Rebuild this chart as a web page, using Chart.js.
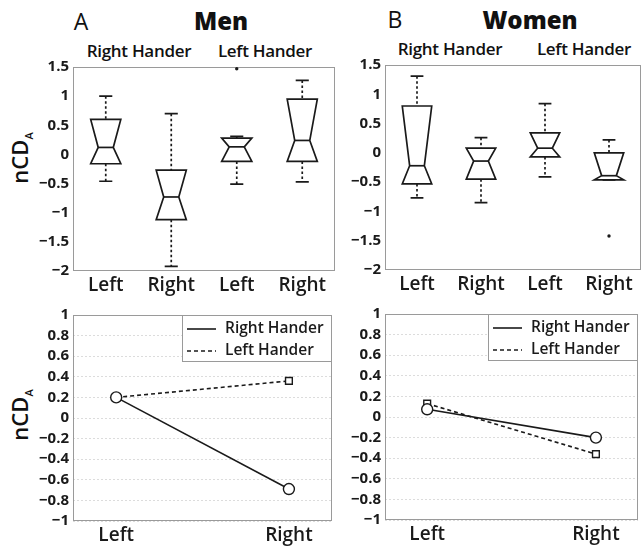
<!DOCTYPE html>
<html>
<head>
<meta charset="utf-8">
<script src="https://cdn.jsdelivr.net/npm/chart.js@4.4.0/dist/chart.umd.min.js"></script>
<style>
  body { margin:0; background:#fff; width:642px; height:548px; position:relative; overflow:hidden; font-family:'Open Sans', sans-serif; color:#111; }
  .panel { position:absolute; }
  .txt { position:absolute; white-space:nowrap; transform:translate(-50%,-50%); line-height:1; }
  .letter { font-size:23px; }
  .title { font-size:24px; font-weight:800; }
  .group { font-size:17px; font-weight:600; letter-spacing:-0.3px; }
  .ylab { font-size:22px; font-weight:600; transform:translate(-50%,-50%) rotate(-90deg); }
  .ylab sub { font-size:11px; }
</style>
</head>
<body>

<div class="txt letter" style="left:81px; top:21px;">A</div>
<div class="txt title" style="left:221px; top:21px;">Men</div>
<div class="txt group" style="left:139px; top:50px;">Right Hander</div>
<div class="txt group" style="left:265px; top:50px;">Left Hander</div>

<div class="txt letter" style="left:395px; top:19px;">B</div>
<div class="txt title" style="left:530px; top:20px;">Women</div>
<div class="txt group" style="left:450px; top:48px;">Right Hander</div>
<div class="txt group" style="left:584px; top:48px;">Left Hander</div>

<div class="txt ylab" style="left:21px; top:158px;">nCD<sub>A</sub></div>
<div class="txt ylab" style="left:21px; top:415px;">nCD<sub>A</sub></div>

<script>
/*-----Datos-----*/

const boxCats = ['Left', 'Right', 'Left', 'Right'];
const boxYTicks = [-2, -1.5, -1, -0.5, 0, 0.5, 1, 1.5];

// Hombres: Right Hander (Left, Right), Left Hander (Left, Right)
const menLow = [-0.46, -1.92, -0.51, -0.47];
const menQ1 = [-0.16, -1.12, -0.12, -0.12];
const menMedian = [0.12, -0.73, 0.13, 0.24];
const menQ3 = [0.6, -0.27, 0.28, 0.95];
const menHigh = [1.0, 0.7, 0.31, 1.27];
const menOutX = [3];
const menOutY = [1.47];

// Mujeres
const womenLow = [-0.77, -0.85, -0.41, -0.46];
const womenQ1 = [-0.53, -0.45, -0.07, -0.46];
const womenMedian = [-0.22, -0.14, 0.08, -0.39];
const womenQ3 = [0.8, 0.08, 0.34, 0.0];
const womenHigh = [1.31, 0.26, 0.84, 0.22];
const womenOutX = [4];
const womenOutY = [-1.42];

// Gráficas de líneas
const lineCats = ['Left', 'Right'];
const lineX = [1, 2];
const lineYTicks = [-1, -0.8, -0.6, -0.4, -0.2, 0, 0.2, 0.4, 0.6, 0.8, 1];
const menRightHander = [0.2, -0.69];
const menLeftHander = [0.2, 0.36];
const womenRightHander = [0.075, -0.2];
const womenLeftHander = [0.13, -0.36];

/*-----Utilidades-----*/

const ink = '#1a1a1a';
const frameColor = '#9a9a9a';
const tickFont = { family: 'Open Sans', size: 15, weight: 'bold' };
const catFont = { family: 'Open Sans', size: 19, weight: '600' };

function fmt(v) {
  return String(Math.round(v * 10) / 10).replace('-', '\u2212');
}

function makeCanvas(rect, yW, xH) {
  const padTop = 12, padRight = 4;
  const div = document.createElement('div');
  div.className = 'panel';
  div.style.left = (rect.left - yW) + 'px';
  div.style.top = (rect.top - padTop) + 'px';
  div.style.width = (yW + rect.right - rect.left + padRight) + 'px';
  div.style.height = (padTop + rect.bottom - rect.top + xH) + 'px';
  const c = document.createElement('canvas');
  div.appendChild(c);
  document.body.appendChild(div);
  return c;
}

const frame = {
  id: 'frame',
  beforeDatasetsDraw(chart) {
    const { ctx, chartArea: a } = chart;
    ctx.save();
    ctx.strokeStyle = frameColor;
    ctx.lineWidth = 1;
    ctx.strokeRect(Math.round(a.left) + 0.5, Math.round(a.top) + 0.5,
                   Math.round(a.right - a.left) - 1, Math.round(a.bottom - a.top) - 1);
    ctx.restore();
  }
};

const boxPlot = {
  id: 'boxPlot',
  afterDatasetsDraw(chart, args, opts) {
    const { ctx, scales: { x, y } } = chart;
    const s = opts.stats;
    if (!s) return;
    const step = x.getPixelForValue(2) - x.getPixelForValue(1);
    const half = step * 0.23, notch = half * 0.5, cap = step * 0.1;
    ctx.save();
    ctx.strokeStyle = ink;
    ctx.lineWidth = 1.7;
    s.median.forEach((m, i) => {
      const cx = x.getPixelForValue(i + 1);
      const lo = y.getPixelForValue(s.low[i]), q1 = y.getPixelForValue(s.q1[i]);
      const md = y.getPixelForValue(m), q3 = y.getPixelForValue(s.q3[i]);
      const hi = y.getPixelForValue(s.high[i]);
      // bigotes
      ctx.setLineDash([2.5, 2.5]);
      ctx.beginPath();
      ctx.moveTo(cx, hi); ctx.lineTo(cx, q3);
      ctx.moveTo(cx, q1); ctx.lineTo(cx, lo);
      ctx.stroke();
      ctx.setLineDash([]);
      ctx.beginPath();
      ctx.moveTo(cx - cap, hi); ctx.lineTo(cx + cap, hi);
      ctx.moveTo(cx - cap, lo); ctx.lineTo(cx + cap, lo);
      ctx.stroke();
      // caja con muesca
      ctx.beginPath();
      ctx.moveTo(cx - half, q3);
      ctx.lineTo(cx + half, q3);
      ctx.lineTo(cx + notch, md);
      ctx.lineTo(cx + half, q1);
      ctx.lineTo(cx - half, q1);
      ctx.lineTo(cx - notch, md);
      ctx.closePath();
      ctx.stroke();
      ctx.beginPath();
      ctx.moveTo(cx - notch, md); ctx.lineTo(cx + notch, md);
      ctx.stroke();
    });
    ctx.restore();
  }
};

const lineLegend = {
  id: 'lineLegend',
  afterDraw(chart) {
    const { ctx, chartArea: a } = chart;
    const w = 150, h = 47;
    const x0 = Math.round(a.right - w), y0 = Math.round(a.top);
    ctx.save();
    ctx.fillStyle = '#fff';
    ctx.fillRect(x0, y0, w, h);
    ctx.strokeStyle = frameColor;
    ctx.lineWidth = 1;
    ctx.strokeRect(x0 + 0.5, y0 + 0.5, w - 1, h - 1);
    chart.data.datasets.forEach((ds, i) => {
      const yy = y0 + 14 + i * 22;
      ctx.strokeStyle = ds.borderColor;
      ctx.lineWidth = ds.borderWidth;
      ctx.setLineDash(ds.borderDash || []);
      ctx.beginPath();
      ctx.moveTo(x0 + 5, yy); ctx.lineTo(x0 + 34, yy);
      ctx.stroke();
      ctx.setLineDash([]);
      ctx.fillStyle = ink;
      ctx.font = '600 15.5px "Open Sans"';
      ctx.textBaseline = 'middle';
      ctx.fillText(ds.label, x0 + 43, yy);
    });
    ctx.restore();
  }
};

/*-----Gráficas de cajas-----*/

function boxChart(rect, yW, stats, outX, outY) {
  const canvas = makeCanvas(rect, yW, 30);
  return new Chart(canvas, {
    type: 'scatter',
    data: {
      datasets: [{
        data: outX.map((v, i) => ({ x: v, y: outY[i] })),
        pointRadius: 1.7,
        pointBackgroundColor: ink,
        pointBorderWidth: 0
      }]
    },
    options: {
      responsive: true,
      maintainAspectRatio: false,
      animation: false,
      layout: { padding: { top: 12, right: 4, left: 0, bottom: 0 } },
      plugins: { legend: { display: false }, tooltip: { enabled: false }, boxPlot: { stats: stats } },
      scales: {
        x: {
          type: 'linear', min: 0.5, max: 4.5,
          grid: { display: false, drawTicks: false }, border: { display: false },
          afterBuildTicks: (sc) => { sc.ticks = boxCats.map((c, i) => ({ value: i + 1 })); },
          afterFit: (sc) => { sc.height = 30; },
          ticks: { padding: 3, color: ink, font: catFont, maxRotation: 0, autoSkip: false,
                   callback: (v) => boxCats[v - 1] }
        },
        y: {
          min: -2, max: 1.5,
          grid: { display: false, drawTicks: false }, border: { display: false },
          afterBuildTicks: (sc) => { sc.ticks = boxYTicks.map(v => ({ value: v })); },
          afterFit: (sc) => { sc.width = yW; },
          ticks: { padding: 4, color: ink, font: tickFont, autoSkip: false, callback: fmt }
        }
      }
    },
    plugins: [frame, boxPlot]
  });
}

boxChart({ left: 73, top: 66, right: 335, bottom: 271 }, 73,
  { low: menLow, q1: menQ1, median: menMedian, q3: menQ3, high: menHigh }, menOutX, menOutY);

boxChart({ left: 385, top: 64, right: 641, bottom: 270 }, 62,
  { low: womenLow, q1: womenQ1, median: womenMedian, q3: womenQ3, high: womenHigh }, womenOutX, womenOutY);

/*-----Gráficas de líneas-----*/

function lineChart(rect, yW, rh, lh) {
  const canvas = makeCanvas(rect, yW, 30);
  return new Chart(canvas, {
    type: 'scatter',
    data: {
      datasets: [{
        label: 'Right Hander',
        data: lineX.map((v, i) => ({ x: v, y: rh[i] })),
        showLine: true,
        borderColor: ink,
        borderWidth: 1.6,
        pointStyle: 'circle',
        pointRadius: 5.5,
        pointBackgroundColor: '#fff',
        pointBorderColor: ink,
        pointBorderWidth: 1.4
      }, {
        label: 'Left Hander',
        data: lineX.map((v, i) => ({ x: v, y: lh[i] })),
        showLine: true,
        borderColor: ink,
        borderWidth: 1.6,
        borderDash: [4, 3],
        pointStyle: 'rect',
        pointRadius: 4.8,
        pointBackgroundColor: '#fff',
        pointBorderColor: ink,
        pointBorderWidth: 1.4
      }]
    },
    options: {
      responsive: true,
      maintainAspectRatio: false,
      animation: false,
      layout: { padding: { top: 12, right: 4, left: 0, bottom: 0 } },
      plugins: { legend: { display: false }, tooltip: { enabled: false } },
      scales: {
        x: {
          type: 'linear', min: 0.75, max: 2.25,
          grid: { display: false, drawTicks: false }, border: { display: false },
          afterBuildTicks: (sc) => { sc.ticks = lineX.map(v => ({ value: v })); },
          afterFit: (sc) => { sc.height = 30; },
          ticks: { padding: 3, color: ink, font: catFont, maxRotation: 0, autoSkip: false,
                   callback: (v) => lineCats[lineX.indexOf(v)] }
        },
        y: {
          min: -1, max: 1,
          grid: { color: '#dcdcdc', drawTicks: false, lineWidth: 1 },
          border: { display: false, dash: [2, 2] },
          afterBuildTicks: (sc) => { sc.ticks = lineYTicks.map(v => ({ value: v })); },
          afterFit: (sc) => { sc.width = yW; },
          ticks: { padding: 4, color: ink, font: tickFont, autoSkip: false, callback: fmt }
        }
      }
    },
    plugins: [frame, lineLegend]
  });
}

lineChart({ left: 73, top: 314, right: 335, bottom: 521 }, 73, menRightHander, menLeftHander);
lineChart({ left: 385, top: 313, right: 641, bottom: 520 }, 62, womenRightHander, womenLeftHander);
</script>
</body>
</html>
